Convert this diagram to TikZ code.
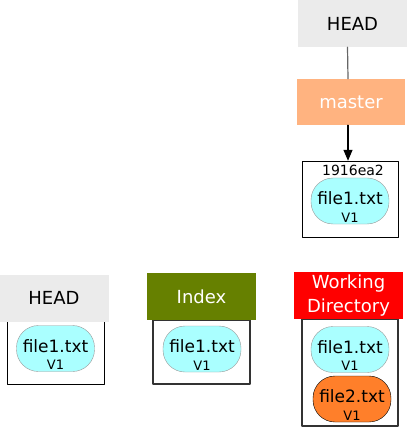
\documentclass[tikz,border=0pt]{standalone}
\usepackage{fontspec}
\setmainfont{DejaVu Sans}
\usetikzlibrary{arrows,arrows.meta}
\definecolor{headgray}{HTML}{EBEBEB}
\definecolor{mastercol}{HTML}{FFB380}
\definecolor{indexcol}{HTML}{668000}
\definecolor{filecyan}{HTML}{AAFFFF}
\definecolor{fileorange}{HTML}{FF7F2A}
\newcommand{\fsize}[1]{\fontsize{#1}{#1}\selectfont}
\newcommand{\filelabel}[1]{\vbox to 46pt{\vskip 14pt
  \hbox to 78pt{\hss\fsize{17}#1\hss}\vskip 5.5pt
  \hbox to 78pt{\hss\fsize{13}V1\hss}\vss}}

\begin{document}
\begin{tikzpicture}[line cap=round,line join=round,>={Triangle[length=11pt,width=9pt]},x=1pt,y=-1pt,
  label box/.style={inner sep=0pt,minimum width=109pt,minimum height=47pt,font=\fsize{18}},
  frame box/.style={draw,inner sep=0pt,minimum width=97pt},
  file/.style={draw=gray!80,fill=filecyan,rounded corners=22pt,inner sep=0pt,
    minimum width=78pt,minimum height=46pt}]

\useasboundingbox (0,0) rectangle (407,427);

% commit on the right
\node [label box,fill=headgray] (headtop) at (352.5,23.5) {HEAD};
\node [label box,fill=mastercol,text=white,minimum width=108pt,minimum height=46pt] (master) at (351,102) {master};
\node [frame box,minimum width=96pt,minimum height=76pt] (commit) at (350,199) {};
\node [font=\fsize{14}] (hash) at (353,170.5) {1916ea2};
\node [file] (cfile) at (350,201) {\filelabel{file1.txt}};
\draw [gray!80!black,line width=1.2pt] ([xshift=-5pt]headtop.south) -- ([xshift=-3pt]master.north);
\draw [->,line width=1.2pt] ([xshift=-3pt]master.south) -- ([xshift=-2pt]commit.north);

% the three trees
\node [frame box,minimum height=64pt] (headframe) at (55.5,352.5) {};
\node [label box,fill=headgray] (head) at (54,298) {HEAD};
\node [file] (hfile) at (55.5,348.5) {\filelabel{file1.txt}};

\node [frame box,draw=black!80,line width=1.6pt,minimum height=64pt] (indexframe) at (201.5,352) {};
\node [label box,fill=indexcol,text=white] (index) at (201.5,296.5) {Index};
\node [file] (ifile) at (202,349) {\filelabel{file1.txt}};

\node [frame box,draw=black!80,line width=1.2pt,minimum width=96pt,minimum height=107pt] (wdframe) at (350,372.5) {};
\node [label box,fill=red,text=white,align=center,font=\fontsize{18}{24}\selectfont] (wd) at (348.5,295.5) {Working\\Directory};
\node [file] (wfile1) at (350,349.5) {\filelabel{file1.txt}};
\node [file,draw=black,fill=fileorange] (wfile2) at (352,399) {\filelabel{file2.txt}};

\end{tikzpicture}
\end{document}
